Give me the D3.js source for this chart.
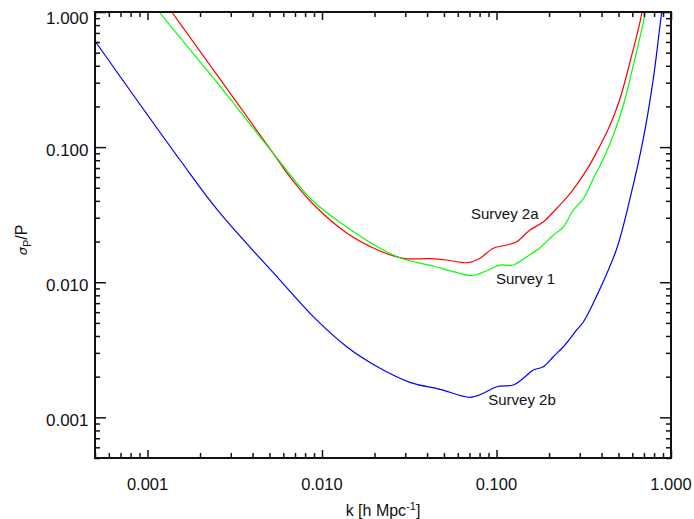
<!DOCTYPE html>
<html>
<head>
<meta charset="utf-8">
<script src="https://cdn.jsdelivr.net/npm/d3@7"></script>
<style>
  html, body { margin: 0; padding: 0; background: #fff; }
  svg { display: block; font-family: "Liberation Sans", Arial, Helvetica, sans-serif; }
</style>
</head>
<body>
<svg id="chart" width="694" height="519"></svg>
<script>
// ---- data ----
const seriesNames = ["Survey 2a", "Survey 1", "Survey 2b"];
const seriesColors = ["#ff0000", "#00ff00", "#0000ff"];

const survey2aK = [0.00120, 0.001376, 0.00524, 0.00655, 0.00888, 0.01385, 0.0215, 0.02923, 0.0416, 0.0518, 0.0689, 0.0804, 0.0959, 0.1144, 0.1305, 0.1556, 0.1854, 0.2115, 0.2414, 0.2638, 0.301, 0.3434, 0.392, 0.447, 0.51, 0.582, 0.664, 0.70];
const survey2aP = [1.27, 1.0, 0.0904, 0.0601, 0.0379, 0.02313, 0.01702, 0.01503, 0.01493, 0.0146, 0.01395, 0.01503, 0.01783, 0.01886, 0.01995, 0.02435, 0.0279, 0.0331, 0.0397, 0.0452, 0.0572, 0.0745, 0.1025, 0.145, 0.228, 0.4265, 0.843, 1.2];

const survey1K = [0.00100, 0.001168, 0.002436, 0.00524, 0.00888, 0.01385, 0.0215, 0.02923, 0.0434, 0.0565, 0.0721, 0.0879, 0.1047, 0.1248, 0.149, 0.1775, 0.2115, 0.2414, 0.2755, 0.3144, 0.3587, 0.4094, 0.467, 0.533, 0.608, 0.694, 0.73];
const survey1P = [1.33, 1.0, 0.3139, 0.0904, 0.0399, 0.02563, 0.01783, 0.01485, 0.01318, 0.01197, 0.01118, 0.01217, 0.0134, 0.0134, 0.01545, 0.018, 0.02225, 0.02563, 0.0341, 0.0415, 0.0584, 0.0821, 0.1223, 0.204, 0.403, 0.843, 1.2];

const survey2bK = [0.0005, 0.001535, 0.00257, 0.00574, 0.00891, 0.01385, 0.0215, 0.0319, 0.0475, 0.0705, 0.0840, 0.1003, 0.1248, 0.1424, 0.1625, 0.1854, 0.2115, 0.2414, 0.2882, 0.3144, 0.392, 0.4884, 0.582, 0.694, 0.792, 0.885, 0.93];
const survey2bP = [0.61, 0.0803, 0.0331, 0.01038, 0.00556, 0.00333, 0.002306, 0.001816, 0.001612, 0.001407, 0.001506, 0.001685, 0.001735, 0.001945, 0.00224, 0.002369, 0.00281, 0.00333, 0.00443, 0.00508, 0.00895, 0.0177, 0.0415, 0.1154, 0.321, 1.0, 1.5];

const xTickValues = [0.001, 0.01, 0.1, 1];
const xTickLabels = ["0.001", "0.010", "0.100", "1.000"];
const yTickValues = [0.001, 0.01, 0.1, 1];
const yTickLabels = ["0.001", "0.010", "0.100", "1.000"];

// label anchors (data coords)
const labelK = [0.0714, 0.0993, 0.0897];
const labelP = [0.0296, 0.0097, 0.001234];

// ---- layout ----
const svg = d3.select("#chart");
const L = 95, R = 671, T = 12, B = 458;
const x = d3.scaleLog().domain([0.0005, 1]).range([L, R]);
const y = d3.scaleLog().domain([0.0005, 1]).range([B, T]);

svg.append("defs").append("clipPath").attr("id", "clip")
  .append("rect").attr("x", L).attr("y", T).attr("width", R - L).attr("height", B - T);

const seriesK = [survey2aK, survey1K, survey2bK];
const seriesP = [survey2aP, survey1P, survey2bP];

const line = d3.line().x(d => x(d[0])).y(d => y(d[1])).curve(d3.curveCatmullRom.alpha(0.5));

const g = svg.append("g").attr("clip-path", "url(#clip)");
seriesK.forEach((ks, i) => {
  const pts = ks.map((k, j) => [k, seriesP[i][j]]);
  g.append("path").datum(pts)
    .attr("d", line)
    .attr("fill", "none")
    .attr("stroke", seriesColors[i])
    .attr("stroke-width", 1.2);
});

// minor tick values
const minorVals = [];
[0.0001, 0.001, 0.01, 0.1].forEach(dec => {
  for (let m = 2; m <= 9; m++) {
    const v = dec * m;
    if (v >= 0.0005 && v < 1) minorVals.push(v);
  }
});

const axisColor = "#111";
function styleAxis(sel) {
  sel.select(".domain").remove();
  sel.selectAll(".tick line").attr("stroke", axisColor).attr("stroke-width", 1.5);
}
svg.append("g").attr("transform", `translate(0,${B})`).call(d3.axisTop(x).tickValues(xTickValues).tickSize(8).tickFormat("")).call(styleAxis);
svg.append("g").attr("transform", `translate(0,${B})`).call(d3.axisTop(x).tickValues(minorVals).tickSize(5).tickFormat("")).call(styleAxis);
svg.append("g").attr("transform", `translate(0,${T})`).call(d3.axisBottom(x).tickValues(xTickValues).tickSize(8).tickFormat("")).call(styleAxis);
svg.append("g").attr("transform", `translate(0,${T})`).call(d3.axisBottom(x).tickValues(minorVals).tickSize(5).tickFormat("")).call(styleAxis);
svg.append("g").attr("transform", `translate(${L},0)`).call(d3.axisRight(y).tickValues(yTickValues).tickSize(11).tickFormat("")).call(styleAxis);
svg.append("g").attr("transform", `translate(${L},0)`).call(d3.axisRight(y).tickValues(minorVals).tickSize(5).tickFormat("")).call(styleAxis);
svg.append("g").attr("transform", `translate(${R},0)`).call(d3.axisLeft(y).tickValues(yTickValues).tickSize(11).tickFormat("")).call(styleAxis);
svg.append("g").attr("transform", `translate(${R},0)`).call(d3.axisLeft(y).tickValues(minorVals).tickSize(5).tickFormat("")).call(styleAxis);

// frame
svg.append("rect").attr("x", L).attr("y", T).attr("width", R - L).attr("height", B - T)
  .attr("fill", "none").attr("stroke", axisColor).attr("stroke-width", 2);

// tick labels
svg.append("g").selectAll("text").data(xTickValues).join("text")
  .attr("x", d => x(d)).attr("y", 490)
  .attr("text-anchor", "middle")
  .attr("font-size", 16.5).attr("fill", "#111")
  .text((d, i) => xTickLabels[i]);

svg.append("g").selectAll("text").data(yTickValues).join("text")
  .attr("x", 88.5).attr("y", d => Math.max(y(d), 15) + 9)
  .attr("text-anchor", "end")
  .attr("font-size", 17).attr("fill", "#111")
  .text((d, i) => yTickLabels[i]);

// axis titles
const xt = svg.append("text").attr("x", (L + R) / 2).attr("y", 516)
  .attr("text-anchor", "middle").attr("font-size", 16).attr("fill", "#111");
xt.append("tspan").text("k [h Mpc");
xt.append("tspan").attr("dy", -6).attr("font-size", 11).text("-1");
xt.append("tspan").attr("dy", 6).text("]");

const yt = svg.append("text").attr("transform", "translate(27,240) rotate(-90)")
  .attr("text-anchor", "middle").attr("font-size", 16).attr("fill", "#111");
yt.append("tspan").attr("font-style", "italic").attr("font-family", "DejaVu Sans").attr("font-size", 13).text("σ");
yt.append("tspan").attr("dy", 4).attr("font-size", 11).text("P");
yt.append("tspan").attr("dy", -4).text("/P");

// series labels
svg.append("g").selectAll("text").data(seriesNames).join("text")
  .attr("x", (d, i) => x(labelK[i])).attr("y", (d, i) => y(labelP[i]))
  .attr("font-size", 15).attr("fill", "#111")
  .text(d => d);
</script>
</body>
</html>
